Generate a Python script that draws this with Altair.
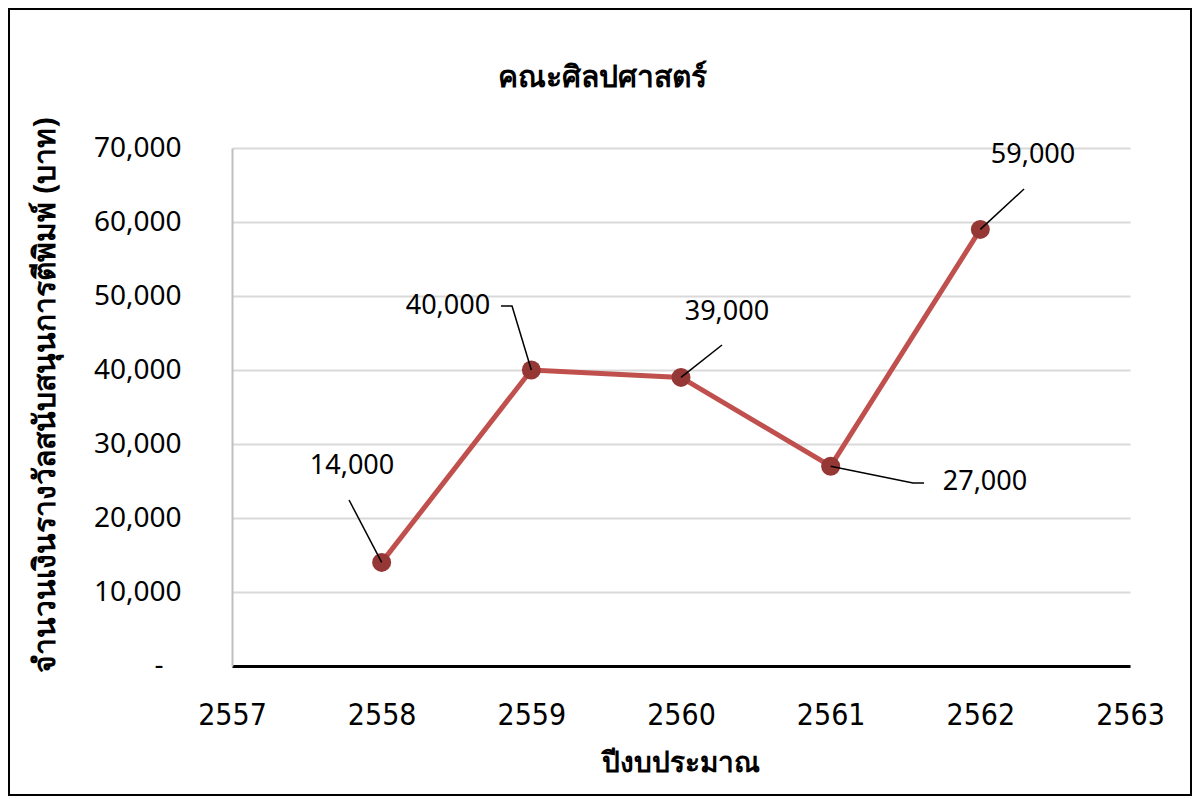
import altair as alt
import pandas as pd

# ---- data ----
years = [2558, 2559, 2560, 2561, 2562]
amounts = [14000, 40000, 39000, 27000, 59000]
labels = ["14,000", "40,000", "39,000", "27,000", "59,000"]

# data-label anchor positions (in data units)
label_x = [2557.802, 2558.443, 2560.307, 2562.031, 2562.352]
label_y = [27028, 48650, 47840, 24866, 69057]

# leader lines (in data units): id, x, y
leader_id = [0, 0, 1, 1, 1, 2, 2, 3, 3, 3, 4, 4]
leader_x = [2557.782, 2558, 2558.797, 2558.871, 2559, 2560.274, 2560,
            2561, 2561.550, 2561.624, 2562.292, 2562]
leader_y = [22432, 14000, 48649, 48649, 40000, 43380, 39000,
            27000, 24730, 24730, 64462, 59000]

x_ticks = [2557, 2558, 2559, 2560, 2561, 2562, 2563]
y_ticks = [0, 10000, 20000, 30000, 40000, 50000, 60000, 70000]

chart_title = "คณะศิลปศาสตร์"
x_title = "ปีงบประมาณ"
y_title = "จำนวนเงินรางวัลสนับสนุนการตีพิมพ์ (บาท)"
zero_label = "-"

df = pd.DataFrame({"year": years, "amount": amounts})
lab_df = pd.DataFrame({"lx": label_x, "ly": label_y, "label": labels})
lead_df = pd.DataFrame({"id": leader_id, "x": leader_x, "y": leader_y,
                        "seg": list(range(len(leader_id)))})

W, H = 898, 518
FONT = "Noto Sans"

xscale = alt.Scale(domain=[2557, 2563], nice=False, zero=False)
yscale = alt.Scale(domain=[0, 70000], nice=False)

base = alt.Chart(df)

line = base.mark_line(color="#c0504d", strokeWidth=5).encode(
    x=alt.X("year:Q", scale=xscale,
            axis=alt.Axis(values=x_ticks, format="d", title=None, grid=False,
                          ticks=False, labelPadding=34, labelFontSize=30,
                          labelFont="DejaVu Sans Condensed",
                          labelFlush=False, labelOverlap=False,
                          labelColor="black", domainColor="black",
                          domainWidth=3)),
    y=alt.Y("amount:Q", scale=yscale,
            axis=alt.Axis(values=y_ticks, title=None, ticks=False,
                          labelExpr="datum.value == 0 ? '' : format(datum.value, ',')",
                          labelPadding=51, labelFontSize=28, labelFont=FONT,
                          labelColor="black", domainColor="#bfbfbf",
                          domainWidth=2, gridColor="#d9d9d9", gridWidth=2)),
)

points = base.mark_circle(color="#953735", opacity=1, size=360).encode(
    x=alt.X("year:Q", scale=xscale),
    y=alt.Y("amount:Q", scale=yscale),
)

leaders = alt.Chart(lead_df).mark_line(color="black", strokeWidth=1.5).encode(
    x=alt.X("x:Q", scale=xscale),
    y=alt.Y("y:Q", scale=yscale),
    detail="id:N",
    order="seg:Q",
)

texts = alt.Chart(lab_df).mark_text(
    fontSize=27, font=FONT, color="black", align="center", baseline="middle"
).encode(
    x=alt.X("lx:Q", scale=xscale),
    y=alt.Y("ly:Q", scale=yscale),
    text="label:N",
)

one = pd.DataFrame({"t": [chart_title], "xt": [x_title], "yt": [y_title],
                    "z": [zero_label], "zv": [0]})

zero_mark = alt.Chart(one).mark_text(
    fontSize=28, font=FONT, color="black", align="center", baseline="middle"
).encode(x=alt.value(-73), y=alt.Y("zv:Q", scale=yscale), text="z:N")

title_mark = alt.Chart(one).mark_text(
    fontSize=30, fontWeight="bold", font=FONT, color="black",
    align="center", baseline="middle"
).encode(x=alt.value(370), y=alt.value(-70), text="t:N")

xtitle_mark = alt.Chart(one).mark_text(
    fontSize=28, fontWeight="bold", font=FONT, color="black",
    align="center", baseline="middle"
).encode(x=alt.value(449), y=alt.value(616), text="xt:N")

ytitle_mark = alt.Chart(one).mark_text(
    fontSize=30, fontWeight="bold", font=FONT, color="black",
    align="center", baseline="middle", angle=270
).encode(x=alt.value(-186), y=alt.value(247), text="yt:N")

border = alt.Chart(one).mark_rect(
    fill=None, stroke="black", strokeWidth=2
).encode(x=alt.value(-223), x2=alt.value(959),
         y=alt.value(-139), y2=alt.value(647))

chart = alt.layer(
    line, points, leaders, texts, zero_mark, title_mark, xtitle_mark,
    ytitle_mark, border
).properties(
    width=W, height=H,
    autosize=alt.AutoSizeParams(type="none"),
    padding={"left": 224, "top": 140, "right": 62, "bottom": 130},
    background="white",
).configure_view(stroke=None)

chart.save("out.html", embed_options={"renderer": "svg", "actions": False})
